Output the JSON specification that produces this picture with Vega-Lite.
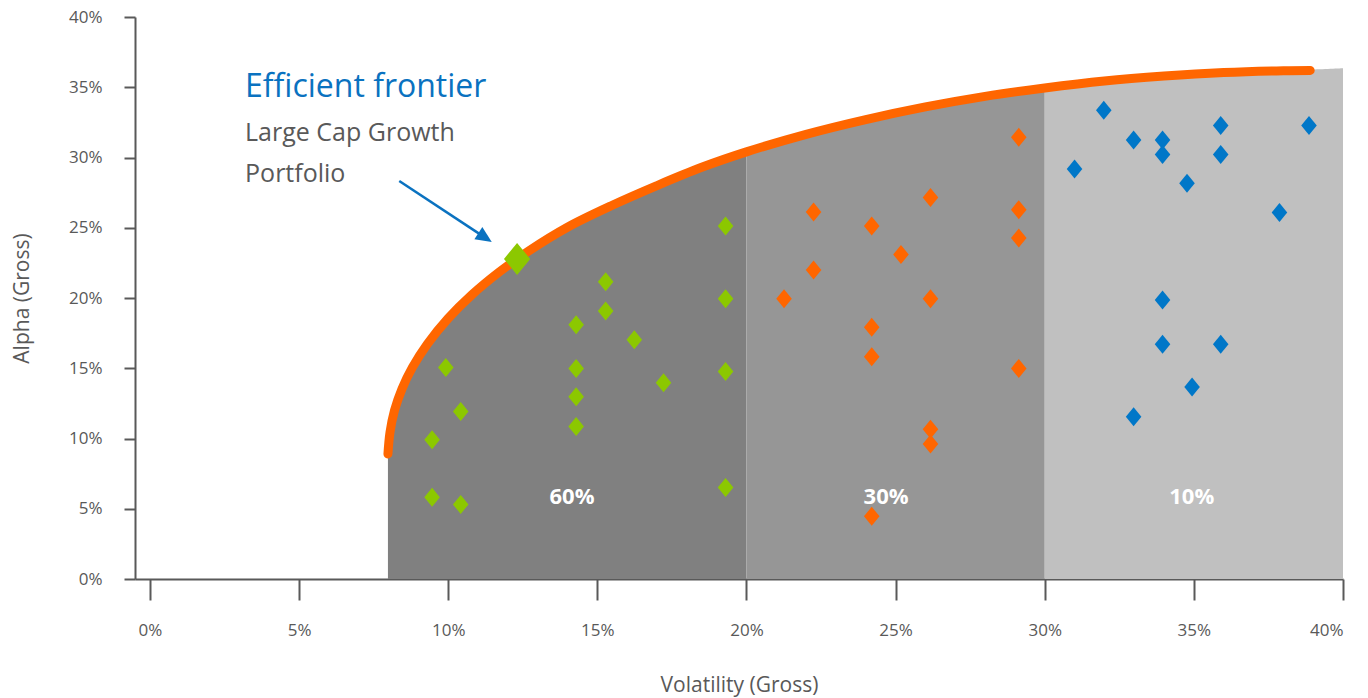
{
  "$schema": "https://vega.github.io/schema/vega-lite/v6.json",
  "width": 1208,
  "height": 562,
  "autosize": {"type": "none"},
  "padding": {"left": 135, "top": 17, "right": 25, "bottom": 119},
  "background": "white",
  "config": {
    "font": "Open Sans",
    "view": {"stroke": null},
    "axis": {
      "domainColor": "#595959",
      "domainWidth": 2,
      "tickColor": "#595959",
      "tickWidth": 2,
      "labelColor": "#595959",
      "labelFontSize": 17,
      "titleColor": "#595959",
      "titleFontSize": 21,
      "titleFontWeight": "normal",
      "grid": false
    }
  },
  "datasets": {
    "frontier": [
      {"vol": 7.98, "alpha": 8.9},
      {"vol": 8.05, "alpha": 10.45},
      {"vol": 8.2, "alpha": 12.0},
      {"vol": 8.45, "alpha": 13.53},
      {"vol": 8.8, "alpha": 15.06},
      {"vol": 9.3, "alpha": 16.72},
      {"vol": 10.0, "alpha": 18.55},
      {"vol": 10.8, "alpha": 20.24},
      {"vol": 11.7, "alpha": 21.83},
      {"vol": 12.7, "alpha": 23.35},
      {"vol": 14.0, "alpha": 25.04},
      {"vol": 15.5, "alpha": 26.6},
      {"vol": 17.0, "alpha": 28.0},
      {"vol": 18.5, "alpha": 29.3},
      {"vol": 20.0, "alpha": 30.4},
      {"vol": 22.0, "alpha": 31.65},
      {"vol": 24.0, "alpha": 32.7},
      {"vol": 26.0, "alpha": 33.6},
      {"vol": 28.0, "alpha": 34.35},
      {"vol": 30.0, "alpha": 34.95},
      {"vol": 32.0, "alpha": 35.45},
      {"vol": 34.0, "alpha": 35.8},
      {"vol": 36.0, "alpha": 36.05},
      {"vol": 38.0, "alpha": 36.18},
      {"vol": 38.9, "alpha": 36.2}
    ],
    "allocation": [
      {"band": "60%", "vol": 7.98, "alpha": 8.9},
      {"band": "60%", "vol": 8.05, "alpha": 10.45},
      {"band": "60%", "vol": 8.2, "alpha": 12.0},
      {"band": "60%", "vol": 8.45, "alpha": 13.53},
      {"band": "60%", "vol": 8.8, "alpha": 15.06},
      {"band": "60%", "vol": 9.3, "alpha": 16.72},
      {"band": "60%", "vol": 10.0, "alpha": 18.55},
      {"band": "60%", "vol": 10.8, "alpha": 20.24},
      {"band": "60%", "vol": 11.7, "alpha": 21.83},
      {"band": "60%", "vol": 12.7, "alpha": 23.35},
      {"band": "60%", "vol": 14.0, "alpha": 25.04},
      {"band": "60%", "vol": 15.5, "alpha": 26.6},
      {"band": "60%", "vol": 17.0, "alpha": 28.0},
      {"band": "60%", "vol": 18.5, "alpha": 29.3},
      {"band": "60%", "vol": 20.0, "alpha": 30.4},
      {"band": "30%", "vol": 20.0, "alpha": 30.4},
      {"band": "30%", "vol": 22.0, "alpha": 31.65},
      {"band": "30%", "vol": 24.0, "alpha": 32.7},
      {"band": "30%", "vol": 26.0, "alpha": 33.6},
      {"band": "30%", "vol": 28.0, "alpha": 34.35},
      {"band": "30%", "vol": 30.0, "alpha": 34.95},
      {"band": "10%", "vol": 30.0, "alpha": 34.95},
      {"band": "10%", "vol": 32.0, "alpha": 35.45},
      {"band": "10%", "vol": 34.0, "alpha": 35.8},
      {"band": "10%", "vol": 36.0, "alpha": 36.05},
      {"band": "10%", "vol": 38.0, "alpha": 36.18},
      {"band": "10%", "vol": 38.9, "alpha": 36.25},
      {"band": "10%", "vol": 40.0, "alpha": 36.35}
    ],
    "funds": [
      {"band": "60%", "vol": 9.46, "alpha": 9.91},
      {"band": "60%", "vol": 9.46, "alpha": 5.81},
      {"band": "60%", "vol": 9.92, "alpha": 15.06},
      {"band": "60%", "vol": 10.42, "alpha": 11.93},
      {"band": "60%", "vol": 10.42, "alpha": 5.31},
      {"band": "60%", "vol": 14.29, "alpha": 18.09},
      {"band": "60%", "vol": 14.29, "alpha": 14.99},
      {"band": "60%", "vol": 14.29, "alpha": 12.97},
      {"band": "60%", "vol": 14.29, "alpha": 10.86},
      {"band": "60%", "vol": 15.28, "alpha": 21.15},
      {"band": "60%", "vol": 15.28, "alpha": 19.08},
      {"band": "60%", "vol": 16.24, "alpha": 17.02},
      {"band": "60%", "vol": 17.22, "alpha": 13.96},
      {"band": "60%", "vol": 19.3, "alpha": 25.13},
      {"band": "60%", "vol": 19.3, "alpha": 19.94},
      {"band": "60%", "vol": 19.3, "alpha": 14.77},
      {"band": "60%", "vol": 19.3, "alpha": 6.52},
      {"band": "30%", "vol": 29.13, "alpha": 31.44},
      {"band": "30%", "vol": 26.17, "alpha": 27.15},
      {"band": "30%", "vol": 22.25, "alpha": 26.12},
      {"band": "30%", "vol": 29.13, "alpha": 26.29},
      {"band": "30%", "vol": 24.2, "alpha": 25.13},
      {"band": "30%", "vol": 29.13, "alpha": 24.27},
      {"band": "30%", "vol": 25.18, "alpha": 23.09},
      {"band": "30%", "vol": 22.25, "alpha": 22.0},
      {"band": "30%", "vol": 21.26, "alpha": 19.94},
      {"band": "30%", "vol": 26.17, "alpha": 19.94},
      {"band": "30%", "vol": 24.2, "alpha": 17.92},
      {"band": "30%", "vol": 24.2, "alpha": 15.81},
      {"band": "30%", "vol": 29.13, "alpha": 14.99},
      {"band": "30%", "vol": 26.17, "alpha": 10.65},
      {"band": "30%", "vol": 26.17, "alpha": 9.6},
      {"band": "30%", "vol": 24.2, "alpha": 4.46},
      {"band": "10%", "vol": 31.98, "alpha": 33.36},
      {"band": "10%", "vol": 35.9, "alpha": 32.27},
      {"band": "10%", "vol": 38.86, "alpha": 32.27},
      {"band": "10%", "vol": 32.98, "alpha": 31.24},
      {"band": "10%", "vol": 33.95, "alpha": 31.24},
      {"band": "10%", "vol": 33.95, "alpha": 30.21},
      {"band": "10%", "vol": 35.9, "alpha": 30.21},
      {"band": "10%", "vol": 31.0, "alpha": 29.18},
      {"band": "10%", "vol": 34.77, "alpha": 28.17},
      {"band": "10%", "vol": 37.87, "alpha": 26.08},
      {"band": "10%", "vol": 33.95, "alpha": 19.86},
      {"band": "10%", "vol": 33.95, "alpha": 16.71},
      {"band": "10%", "vol": 35.9, "alpha": 16.71},
      {"band": "10%", "vol": 34.94, "alpha": 13.66},
      {"band": "10%", "vol": 32.98, "alpha": 11.54}
    ],
    "portfolio": [
      {"name": "Large Cap Growth Portfolio", "vol": 12.31, "alpha": 22.78}
    ],
    "bands": [
      {"band": "60%", "vol": 14.15, "alpha": 5.85},
      {"band": "30%", "vol": 24.68, "alpha": 5.85},
      {"band": "10%", "vol": 34.93, "alpha": 5.85}
    ],
    "headline": [
      {"label": "Efficient frontier", "vol": 3.19, "alpha": 34.3}
    ],
    "caption": [
      {"label": "Large Cap Growth", "vol": 3.19, "alpha": 31.15},
      {"label": "Portfolio", "vol": 3.19, "alpha": 28.26}
    ],
    "pointer": [
      {"vol": 8.36, "alpha": 28.33, "vol_end": 11.2, "alpha_end": 24.35, "tip_vol": 11.46, "tip_alpha": 23.99}
    ]
  },
  "encoding": {
    "x": {
      "field": "vol",
      "type": "quantitative",
      "scale": {"domain": [-0.5, 40], "nice": false, "zero": false},
      "axis": {
        "title": "Volatility (Gross)",
        "values": [0, 5, 10, 15, 20, 25, 30, 35, 40],
        "labelExpr": "datum.value + '%'",
        "tickSize": 21,
        "labelPadding": 22,
        "titleY": 106,
        "titleBaseline": "middle"
      }
    },
    "y": {
      "field": "alpha",
      "type": "quantitative",
      "scale": {"domain": [0, 40], "nice": false},
      "axis": {
        "title": "Alpha (Gross)",
        "values": [0, 5, 10, 15, 20, 25, 30, 35, 40],
        "labelExpr": "datum.value + '%'",
        "tickSize": 11,
        "labelPadding": 22,
        "titleX": -113,
        "titleBaseline": "middle"
      }
    }
  },
  "layer": [
    {
      "data": {"name": "allocation"},
      "mark": {"type": "area", "interpolate": "catmull-rom"},
      "encoding": {
        "y": {"field": "alpha", "type": "quantitative", "stack": null},
        "color": {
          "field": "band",
          "type": "nominal",
          "scale": {"domain": ["60%", "30%", "10%"], "range": ["#808080", "#969696", "#c0c0c0"]},
          "legend": null
        }
      }
    },
    {
      "data": {"name": "frontier"},
      "mark": {"type": "line", "interpolate": "catmull-rom", "color": "#ff6600", "strokeWidth": 9, "strokeCap": "round", "strokeJoin": "round"},
      "encoding": {}
    },
    {
      "data": {"name": "funds"},
      "mark": {"type": "point", "shape": "M0,-1L0.82,0L0,1L-0.82,0Z", "filled": true, "opacity": 1, "size": 361},
      "encoding": {
        "fill": {
          "field": "band",
          "type": "nominal",
          "scale": {"domain": ["60%", "30%", "10%"], "range": ["#8cc800", "#ff6600", "#0077c8"]},
          "legend": null
        }
      }
    },
    {
      "data": {"name": "portfolio"},
      "mark": {"type": "point", "shape": "M0,-1L0.82,0L0,1L-0.82,0Z", "filled": true, "opacity": 1, "size": 1024, "color": "#8cc800"},
      "encoding": {}
    },
    {
      "data": {"name": "bands"},
      "mark": {"type": "text", "color": "white", "fontWeight": "bold", "fontSize": 22, "align": "center", "baseline": "middle"},
      "encoding": {"text": {"field": "band", "type": "nominal"}}
    },
    {
      "data": {"name": "pointer"},
      "mark": {"type": "rule", "color": "#0a72c0", "strokeWidth": 2.5},
      "encoding": {
        "x2": {"field": "vol_end"},
        "y2": {"field": "alpha_end"}
      }
    },
    {
      "data": {"name": "pointer"},
      "mark": {"type": "point", "shape": "M0,0L-2,-0.9L-2,0.9Z", "filled": true, "opacity": 1, "size": 256, "color": "#0a72c0", "angle": 33.4},
      "encoding": {
        "x": {"field": "tip_vol", "type": "quantitative"},
        "y": {"field": "tip_alpha", "type": "quantitative"}
      }
    },
    {
      "data": {"name": "headline"},
      "mark": {"type": "text", "color": "#0a72c0", "fontSize": 32, "align": "left", "baseline": "alphabetic"},
      "encoding": {"text": {"field": "label", "type": "nominal"}}
    },
    {
      "data": {"name": "caption"},
      "mark": {"type": "text", "color": "#595959", "fontSize": 25, "align": "left", "baseline": "alphabetic"},
      "encoding": {"text": {"field": "label", "type": "nominal"}}
    }
  ],
  "resolve": {"scale": {"color": "independent", "fill": "independent"}}
}
